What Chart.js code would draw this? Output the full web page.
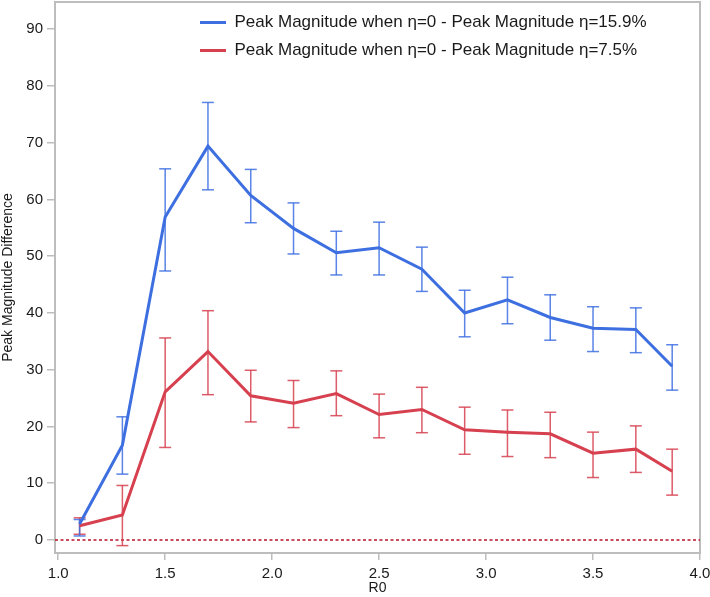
<!DOCTYPE html>
<html>
<head>
<meta charset="utf-8">
<script src="https://cdn.jsdelivr.net/npm/chart.js@4.4.1/dist/chart.umd.min.js"></script>
<style>
html,body{margin:0;padding:0;background:#fff;}
canvas{display:block;}
</style>
</head>
<body>
<canvas id="c" width="710" height="597"></canvas>
<script>
// ---- data ----
const r0 = [1.1, 1.3, 1.5, 1.7, 1.9, 2.1, 2.3, 2.5, 2.7, 2.9, 3.1, 3.3, 3.5, 3.7, 3.87];
const diffEta159 = [2.8, 16.7, 56.9, 69.4, 60.7, 54.9, 50.6, 51.5, 47.7, 40.0, 42.3, 39.2, 37.3, 37.1, 30.6];
const diffEta159Low = [0.7, 11.6, 47.4, 61.7, 55.9, 50.4, 46.7, 46.7, 43.8, 35.8, 38.1, 35.2, 33.2, 33.0, 26.4];
const diffEta159High = [3.6, 21.7, 65.4, 77.1, 65.3, 59.4, 54.4, 56.0, 51.6, 44.0, 46.3, 43.2, 41.1, 40.9, 34.4];
const diffEta75 = [2.5, 4.4, 26.1, 33.2, 25.4, 24.1, 25.8, 22.1, 23.0, 19.4, 19.0, 18.7, 15.3, 16.0, 12.1];
const diffEta75Low = [1.0, -1.0, 16.3, 25.6, 20.8, 19.8, 21.9, 18.0, 18.9, 15.1, 14.7, 14.5, 11.0, 11.9, 7.9];
const diffEta75High = [3.9, 9.6, 35.6, 40.4, 29.9, 28.1, 29.8, 25.7, 26.9, 23.4, 22.9, 22.5, 19.0, 20.1, 16.0];
const seriesLabels = [
  'Peak Magnitude when η=0 - Peak Magnitude η=15.9%',
  'Peak Magnitude when η=0 - Peak Magnitude η=7.5%'
];
const xTicks = [1.0, 1.5, 2.0, 2.5, 3.0, 3.5, 4.0];
const yTicks = [0, 10, 20, 30, 40, 50, 60, 70, 80, 90];
const xRange = [0.985, 4.0];
const yRange = [-2.3, 94.8];
const referenceValue = [0];
const xTitle = 'R0';
const yTitle = 'Peak Magnitude Difference';

// ---- styles ----
const BLUE = '#3d6fe0';
const BLUE_ERR = 'rgba(61,111,224,0.85)';
const RED = '#d6404f';
const RED_ERR = 'rgba(214,64,79,0.85)';
const FRAME = '#bdbdbd';

Chart.defaults.font.family = "'Liberation Sans', Arial, Helvetica, sans-serif";
Chart.defaults.color = '#1a1a1a';

function linePts(ys) { return r0.map((x, i) => ({x: x, y: ys[i]})); }
function errPts(lo, hi) {
  const out = [{x: r0[0], y: null}];
  r0.forEach((x, i) => { out.push({x: x, y: lo[i]}, {x: x, y: hi[i]}, {x: x, y: null}); });
  return out;
}
const capRadius = c => (c.raw && c.raw.y !== null ? 6 : 0);
function errDataset(lo, hi, color) {
  return {
    type: 'line', data: errPts(lo, hi), borderColor: color, borderWidth: 1.5,
    pointStyle: 'line', pointRadius: capRadius, pointHoverRadius: capRadius,
    pointBorderWidth: 1.5, pointBorderColor: color,
    pointBackgroundColor: color, spanGaps: false, fill: false, order: 2
  };
}

const framePlugin = {
  id: 'frame',
  beforeDatasetsDraw(chart) {
    const {ctx, chartArea: a} = chart;
    ctx.save();
    ctx.strokeStyle = FRAME;
    ctx.lineWidth = 2;
    ctx.strokeRect(a.left, a.top, a.right - a.left, a.bottom - a.top);
    ctx.restore();
  }
};
const legendPlace = {
  id: 'legendPlace',
  afterLayout(chart) {
    const lg = chart.legend;
    if (!lg) return;
    const w = lg.width, h = lg.height;
    lg.left = chart.chartArea.left + 134;
    lg.right = lg.left + w + 20;
    lg.top = chart.chartArea.top + 1;
    lg.bottom = lg.top + h;
  }
};

new Chart(document.getElementById('c'), {
  type: 'line',
  data: {
    datasets: [
      {label: seriesLabels[0], data: linePts(diffEta159), borderColor: BLUE, backgroundColor: BLUE,
       borderWidth: 3, pointRadius: 0, pointHoverRadius: 0, fill: false, order: 0},
      {label: seriesLabels[1], data: linePts(diffEta75), borderColor: RED, backgroundColor: RED,
       borderWidth: 3, pointRadius: 0, pointHoverRadius: 0, fill: false, order: 0},
      errDataset(diffEta159Low, diffEta159High, BLUE_ERR),
      errDataset(diffEta75Low, diffEta75High, RED_ERR),
      {label: 'zero', data: [{x: xRange[0], y: referenceValue[0]}, {x: xRange[1], y: referenceValue[0]}],
       borderColor: '#b8142c', borderWidth: 1.5, borderDash: [3, 2.5], pointRadius: 0, pointHoverRadius: 0,
       fill: false, order: 3}
    ]
  },
  options: {
    responsive: false,
    animation: false,
    events: [],
    layout: {padding: {top: 2, right: 10, left: 0, bottom: 0}},
    scales: {
      x: {
        type: 'linear', min: xRange[0], max: xRange[1],
        afterBuildTicks: s => { s.ticks = xTicks.map(v => ({value: v})); },
        afterFit: s => { s.height = 44; s.paddingLeft = 0; s.paddingRight = 0; },
        ticks: {font: {size: 15}, padding: 5, maxRotation: 0, autoSkip: false,
                callback: v => Number(v).toFixed(1)},
        grid: {drawOnChartArea: false, drawTicks: true, tickLength: 7, color: FRAME, lineWidth: 1.5},
        border: {display: false},
        title: {display: true, text: xTitle, font: {size: 14}, padding: {top: 0, bottom: 0}}
      },
      y: {
        type: 'linear', min: yRange[0], max: yRange[1],
        afterBuildTicks: s => { s.ticks = yTicks.map(v => ({value: v})); },
        afterFit: s => { s.width = 55; s.paddingTop = 0; s.paddingBottom = 0; },
        ticks: {font: {size: 15}, padding: 4, autoSkip: false},
        grid: {drawOnChartArea: false, drawTicks: true, tickLength: 8, color: FRAME, lineWidth: 1.5},
        border: {display: false},
        title: {display: true, text: yTitle, font: {size: 14}, padding: {top: 0, bottom: 0}}
      }
    },
    plugins: {
      tooltip: {enabled: false},
      legend: {
        position: 'chartArea',
        align: 'start',
        labels: {
          font: {size: 17},
          color: '#1a1a1a',
          boxWidth: 26,
          boxHeight: 3,
          padding: 11,
          generateLabels: chart => Chart.defaults.plugins.legend.labels.generateLabels(chart)
            .filter(it => it.datasetIndex < 2)
            .map(it => Object.assign(it, {lineWidth: 0, fillStyle: it.strokeStyle}))
        }
      }
    }
  },
  plugins: [framePlugin, legendPlace]
});
</script>
</body>
</html>
